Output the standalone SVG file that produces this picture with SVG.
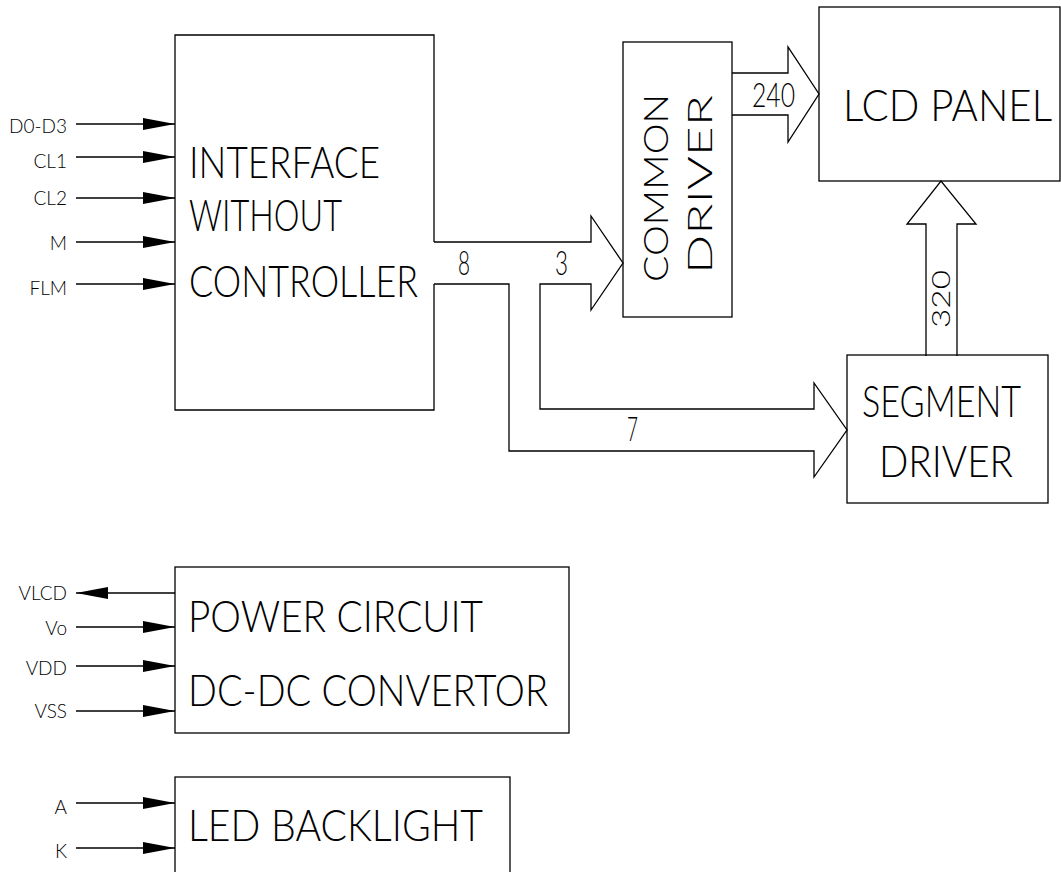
<svg xmlns="http://www.w3.org/2000/svg" width="1061" height="872" viewBox="0 0 1061 872">
<style>
.ln{fill:none;stroke:#000;stroke-width:1.3}
.box{fill:#fff;stroke:#000;stroke-width:1.3}
.ah{fill:#000;stroke:none}
text{font-family:Lato,"Liberation Sans",sans-serif;font-weight:300;fill:#000}
.big{font-size:44px}
.mid{font-size:33px}
.sm{font-size:19px;text-anchor:end}
</style>
<rect width="1061" height="872" fill="#fff"/>
<g id="interface">
<path class="ln" d="M434,242 V35 H175 V410 H434 V284"/>
<text class="big" x="189" y="178" textLength="191" lengthAdjust="spacingAndGlyphs">INTERFACE</text>
<text class="big" x="189" y="231" textLength="153" lengthAdjust="spacingAndGlyphs">WITHOUT</text>
<text class="big" x="189" y="297" textLength="229" lengthAdjust="spacingAndGlyphs">CONTROLLER</text>
</g>
<g id="common-driver">
<rect class="box" x="623" y="42" width="109" height="275"/>
<text class="mid" transform="translate(668,282) rotate(-90)" textLength="188" lengthAdjust="spacingAndGlyphs">COMMON</text>
<text class="mid" transform="translate(712,274) rotate(-90)" textLength="179" lengthAdjust="spacingAndGlyphs">DRIVER</text>
</g>
<g id="lcd-panel">
<rect class="box" x="819" y="7" width="241" height="174"/>
<text class="big" x="843" y="121" textLength="209" lengthAdjust="spacingAndGlyphs">LCD PANEL</text>
</g>
<g id="segment-driver">
<rect class="box" x="847" y="355" width="201" height="148"/>
<text class="big" x="862" y="417" textLength="159" lengthAdjust="spacingAndGlyphs">SEGMENT</text>
<text class="big" x="879" y="477" textLength="134" lengthAdjust="spacingAndGlyphs">DRIVER</text>
</g>
<g id="power-circuit">
<rect class="box" x="175" y="567" width="394" height="166"/>
<text class="big" x="188" y="632" textLength="295" lengthAdjust="spacingAndGlyphs">POWER CIRCUIT</text>
<text class="big" x="188" y="706" textLength="360" lengthAdjust="spacingAndGlyphs">DC-DC CONVERTOR</text>
</g>
<g id="led-backlight">
<rect class="box" x="175" y="777" width="335" height="120"/>
<text class="big" x="188" y="841" textLength="295" lengthAdjust="spacingAndGlyphs">LED BACKLIGHT</text>
</g>
<g id="connectors">
<polyline class="ln" points="434,242 591,242 591,216 623,263 591,310 591,284 540,284 540,409 814,409 814,383 847,430 814,477 814,451 509,451 509,284 434,284"/>
<polyline class="ln" points="732,73 788,73 788,47 819,94 788,142 788,115 732,115"/>
<polyline class="ln" points="926,356 926,224 907,224 941,181 976,224 957,224 957,356"/>
<text class="mid" x="458" y="275" textLength="12" lengthAdjust="spacingAndGlyphs">8</text>
<text class="mid" x="555" y="275" textLength="13" lengthAdjust="spacingAndGlyphs">3</text>
<text class="mid" x="627" y="441" textLength="11" lengthAdjust="spacingAndGlyphs">7</text>
<text class="mid" x="752" y="107" textLength="43" lengthAdjust="spacingAndGlyphs">240</text>
<text style="font-size:25px" transform="translate(950,328) rotate(-90)" textLength="58" lengthAdjust="spacingAndGlyphs">320</text>
<g id="inputs">
<line class="ln" x1="76" y1="124" x2="175" y2="124"/><polygon class="ah" points="175,124 143,118 143,130"/>
<line class="ln" x1="76" y1="157" x2="175" y2="157"/><polygon class="ah" points="175,157 143,151 143,163"/>
<line class="ln" x1="76" y1="198" x2="175" y2="198"/><polygon class="ah" points="175,198 143,192 143,204"/>
<line class="ln" x1="76" y1="242" x2="175" y2="242"/><polygon class="ah" points="175,242 143,236 143,248"/>
<line class="ln" x1="76" y1="284" x2="175" y2="284"/><polygon class="ah" points="175,284 143,278 143,290"/>
<line class="ln" x1="76" y1="593" x2="175" y2="593"/><polygon class="ah" points="76,593 108,587 108,599"/>
<line class="ln" x1="76" y1="627" x2="175" y2="627"/><polygon class="ah" points="175,627 143,621 143,633"/>
<line class="ln" x1="76" y1="666" x2="175" y2="666"/><polygon class="ah" points="175,666 143,660 143,672"/>
<line class="ln" x1="76" y1="711" x2="175" y2="711"/><polygon class="ah" points="175,711 143,705 143,717"/>
<line class="ln" x1="76" y1="803" x2="175" y2="803"/><polygon class="ah" points="175,803 143,797 143,809"/>
<line class="ln" x1="76" y1="848" x2="175" y2="848"/><polygon class="ah" points="175,848 143,842 143,854"/>
</g>
<text class="sm" x="67" y="133">D0-D3</text>
<text class="sm" x="67" y="168">CL1</text>
<text class="sm" x="67" y="205">CL2</text>
<text class="sm" x="67" y="250">M</text>
<text class="sm" x="67" y="295">FLM</text>
<text class="sm" x="67" y="600">VLCD</text>
<text class="sm" x="67" y="635">Vo</text>
<text class="sm" x="67" y="675">VDD</text>
<text class="sm" x="67" y="718">VSS</text>
<text class="sm" x="67" y="814">A</text>
<text class="sm" x="67" y="858">K</text>
</g>
</svg>
